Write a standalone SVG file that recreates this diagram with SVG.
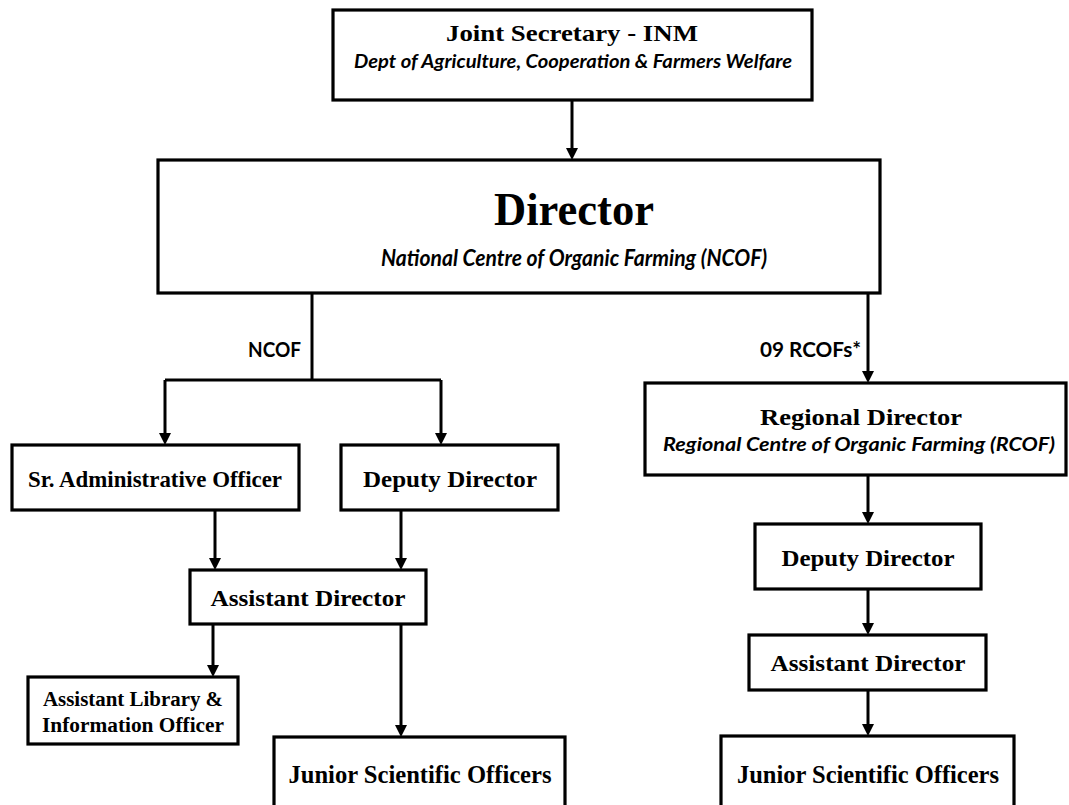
<svg xmlns="http://www.w3.org/2000/svg" width="1069" height="805" viewBox="0 0 1069 805">
<style>
.box{fill:#fff;stroke:#000;stroke-width:3.2}
.ln{fill:none;stroke:#000;stroke-width:3}
.t{font-family:"Liberation Serif",serif;font-weight:bold;fill:#000;text-anchor:middle}
.s{font-family:Lato,"Open Sans",sans-serif;font-weight:bold;font-style:italic;fill:#000;text-anchor:middle}
.lab{font-family:Lato,"Open Sans",sans-serif;font-weight:bold;fill:#000;text-anchor:end;font-size:21px}
</style>
<rect width="1069" height="805" fill="#fff"/>
<g id="connectors">
<path class="ln" d="M572,100 V150"/>
<path class="ln" d="M312,293 V380"/>
<path class="ln" d="M165,380 H441"/>
<path class="ln" d="M165,380 V435"/>
<path class="ln" d="M441,380 V435"/>
<path class="ln" d="M215,510 V560"/>
<path class="ln" d="M401,510 V560"/>
<path class="ln" d="M213,624 V667"/>
<path class="ln" d="M401,624 V727"/>
<path class="ln" d="M868,293 V373"/>
<path class="ln" d="M868,475 V514"/>
<path class="ln" d="M868,589 V625"/>
<path class="ln" d="M868,690 V726"/>
<g fill="#000">
<path d="M566,148 L578,148 L572,160 Z"/>
<path d="M159,433 L171,433 L165,445 Z"/>
<path d="M435,433 L447,433 L441,445 Z"/>
<path d="M209,558 L221,558 L215,570 Z"/>
<path d="M395,558 L407,558 L401,570 Z"/>
<path d="M207,665 L219,665 L213,677 Z"/>
<path d="M395,725 L407,725 L401,737 Z"/>
<path d="M862,371 L874,371 L868,383 Z"/>
<path d="M862,512 L874,512 L868,524 Z"/>
<path d="M862,623 L874,623 L868,635 Z"/>
<path d="M862,724 L874,724 L868,736 Z"/>
</g>
<text class="lab" x="301" y="357" textLength="53" lengthAdjust="spacingAndGlyphs">NCOF</text>
<text class="lab" x="861" y="357" textLength="101" lengthAdjust="spacingAndGlyphs">09 RCOFs*</text>
</g>
<g id="joint-secretary">
<rect class="box" x="333" y="10" width="479" height="90"/>
<text class="t" x="572" y="41" font-size="24" textLength="252" lengthAdjust="spacingAndGlyphs">Joint Secretary - INM</text>
<text class="s" x="573" y="68" font-size="18" textLength="438" lengthAdjust="spacingAndGlyphs">Dept of Agriculture, Cooperation &amp; Farmers Welfare</text>
</g>
<g id="director">
<rect class="box" x="158" y="160" width="722" height="133"/>
<text class="t" x="574" y="225" font-size="46" textLength="160" lengthAdjust="spacingAndGlyphs">Director</text>
<text class="s" x="574" y="266" font-size="22" textLength="386" lengthAdjust="spacingAndGlyphs">National Centre of Organic Farming (NCOF)</text>
</g>
<g id="sr-admin">
<rect class="box" x="12" y="445" width="287" height="65"/>
<text class="t" x="155" y="487" font-size="23" textLength="254" lengthAdjust="spacingAndGlyphs">Sr. Administrative Officer</text>
</g>
<g id="deputy-director-ncof">
<rect class="box" x="341" y="445" width="217" height="65"/>
<text class="t" x="450" y="487" font-size="24" textLength="174" lengthAdjust="spacingAndGlyphs">Deputy Director</text>
</g>
<g id="assistant-director-ncof">
<rect class="box" x="190" y="570" width="236" height="54"/>
<text class="t" x="308" y="606" font-size="24" textLength="195" lengthAdjust="spacingAndGlyphs">Assistant Director</text>
</g>
<g id="library-officer">
<rect class="box" x="28" y="677" width="210" height="67"/>
<text class="t" x="133" y="706" font-size="20" textLength="180" lengthAdjust="spacingAndGlyphs">Assistant Library &amp;</text>
<text class="t" x="133" y="732" font-size="20" textLength="182" lengthAdjust="spacingAndGlyphs">Information Officer</text>
</g>
<g id="jso-ncof">
<rect class="box" x="274" y="737" width="291" height="90"/>
<text class="t" x="420" y="783" font-size="25" textLength="263" lengthAdjust="spacingAndGlyphs">Junior Scientific Officers</text>
</g>
<g id="regional-director">
<rect class="box" x="645" y="383" width="421" height="92"/>
<text class="t" x="861" y="425" font-size="24" textLength="202" lengthAdjust="spacingAndGlyphs">Regional Director</text>
<text class="s" x="859" y="451" font-size="19" textLength="392" lengthAdjust="spacingAndGlyphs">Regional Centre of Organic Farming (RCOF)</text>
</g>
<g id="deputy-director-rcof">
<rect class="box" x="755" y="524" width="226" height="65"/>
<text class="t" x="868" y="566" font-size="24" textLength="173" lengthAdjust="spacingAndGlyphs">Deputy Director</text>
</g>
<g id="assistant-director-rcof">
<rect class="box" x="749" y="635" width="237" height="55"/>
<text class="t" x="868" y="671" font-size="24" textLength="195" lengthAdjust="spacingAndGlyphs">Assistant Director</text>
</g>
<g id="jso-rcof">
<rect class="box" x="721" y="736" width="293" height="90"/>
<text class="t" x="868" y="783" font-size="25" textLength="262" lengthAdjust="spacingAndGlyphs">Junior Scientific Officers</text>
</g>
</svg>
